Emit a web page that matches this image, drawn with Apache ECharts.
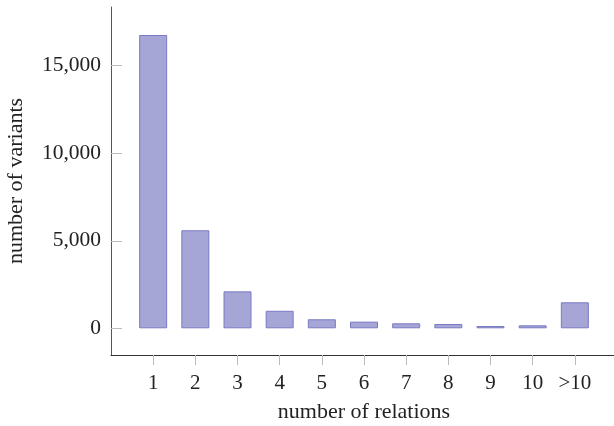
<!DOCTYPE html>
<html>
<head>
<meta charset="utf-8">
<script src="https://cdn.jsdelivr.net/npm/echarts@6/dist/echarts.min.js"></script>
<style>
html,body{margin:0;padding:0;background:#fff;}
#chart{width:614px;height:426px;}
</style>
</head>
<body>
<div id="chart"></div>
<script>
const categories = ['1','2','3','4','5','6','7','8','9','10','>10'];
const positions = [1,2,3,4,5,6,7,8,9,10,11];
const variants = [16750, 5600, 2110, 1000, 515, 380, 285, 245, 130, 170, 1485];
const yTicks = [0, 5000, 10000, 15000];

const FONT = 'Liberation Serif';
const chart = echarts.init(document.getElementById('chart'), null, {renderer:'canvas'});
chart.setOption({
  animation:false,
  backgroundColor:'#fff',
  grid:{left:111, right:-3, top:7, bottom:71, containLabel:false, outerBoundsMode:'none'},
  xAxis:{
    type:'value', min:0, max:12,
    name:'number of relations', nameLocation:'middle', nameGap:46,
    nameTextStyle:{fontFamily:FONT, fontSize:22, color:'#222'},
    axisLine:{show:true, onZero:false, lineStyle:{color:'#333', width:1}},
    axisTick:{show:true, inside:false, length:10, customValues:positions, lineStyle:{color:'#bbb', width:1}},
    axisLabel:{show:true, margin:18, customValues:positions, fontFamily:FONT, fontSize:21, color:'#222',
      formatter:function(v){ const i = positions.indexOf(Math.round(v)); return i>=0 ? categories[i] : ''; }},
    splitLine:{show:false}
  },
  yAxis:{
    type:'value', min:-1525, max:18350,
    name:'number of variants', nameLocation:'middle', nameGap:84,
    nameTextStyle:{fontFamily:FONT, fontSize:22, color:'#222'},
    axisLine:{show:true, onZero:false, lineStyle:{color:'#555', width:1}},
    axisTick:{show:true, inside:true, length:11, customValues:yTicks, lineStyle:{color:'#bbb', width:1}},
    axisLabel:{show:true, margin:10, customValues:yTicks, fontFamily:FONT, fontSize:21.5, color:'#222',
      formatter:function(v){ return Number(v).toLocaleString('en-US'); }},
    splitLine:{show:false}
  },
  series:[{
    type:'bar',
    data: positions.map((p,i)=>[p, variants[i]]),
    barWidth:28,
    itemStyle:{color:'#a5a5d6', borderColor:'#7a7ac4', borderWidth:1}
  }]
});
</script>
</body>
</html>
